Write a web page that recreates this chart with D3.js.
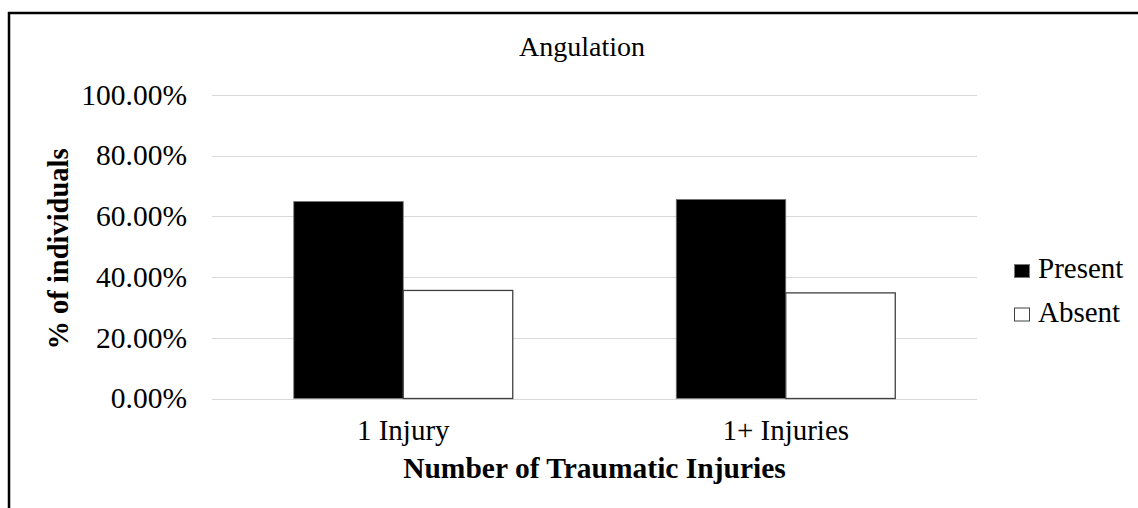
<!DOCTYPE html>
<html>
<head>
<meta charset="utf-8">
<script src="https://cdn.jsdelivr.net/npm/d3@7"></script>
<style>
  body { margin: 0; background: #fff; }
</style>
</head>
<body>
<svg width="1138" height="508"></svg>
<script>
// chart data
var categories = ["1 Injury", "1+ Injuries"];
var seriesNames = ["Present", "Absent"];
var present = [64.9, 65.6];
var absent = [35.6, 34.8];
var yTicks = [0, 20, 40, 60, 80, 100];

var serif = "'Liberation Serif', 'Times New Roman', Tinos, serif";

var svg = d3.select("svg").style("font-family", serif);

// outer frame (runs off the right and bottom edges)
svg.append("rect")
    .attr("x", 9).attr("y", 13)
    .attr("width", 1150).attr("height", 520)
    .attr("fill", "none")
    .attr("stroke", "#000")
    .attr("stroke-width", 2.5);

var plot = {left: 212, right: 977, top: 95, bottom: 398.5};

var x = d3.scaleBand().domain(categories).range([plot.left, plot.right]).padding(0);
var y = d3.scaleLinear().domain([0, 100]).range([plot.bottom, plot.top]);

// bars sit in the middle of each band, 109px each
var barW = 109.5;
var xs = d3.scaleBand().domain(seriesNames).range([-barW, barW]).padding(0);

// gridlines
svg.append("g").selectAll("line")
  .data(yTicks)
  .enter().append("line")
    .attr("x1", plot.left).attr("x2", plot.right)
    .attr("y1", function(d) { return Math.round(y(d)) + 0.5; })
    .attr("y2", function(d) { return Math.round(y(d)) + 0.5; })
    .attr("stroke", "#d9d9d9")
    .attr("stroke-width", 1);

// y tick labels
svg.append("g").selectAll("text")
  .data(yTicks)
  .enter().append("text")
    .attr("x", 187)
    .attr("y", function(d) { return y(d); })
    .attr("dy", "0.33em")
    .attr("text-anchor", "end")
    .attr("font-size", 29.5)
    .attr("fill", "#000")
    .style("font-family", serif)
    .text(function(d) { return d.toFixed(2) + "%"; });

// bars
var rows = categories.map(function(c, i) {
  return {cat: c, vals: [{s: "Present", v: present[i]}, {s: "Absent", v: absent[i]}]};
});

var groups = svg.append("g").selectAll("g")
  .data(rows)
  .enter().append("g")
    .attr("transform", function(d) { return "translate(" + (x(d.cat) + x.bandwidth() / 2) + ",0)"; });

groups.selectAll("rect")
  .data(function(d) { return d.vals; })
  .enter().append("rect")
    .attr("x", function(d) { return xs(d.s); })
    .attr("y", function(d) { return y(d.v); })
    .attr("width", xs.bandwidth())
    .attr("height", function(d) { return y(0) - y(d.v); })
    .attr("fill", function(d) { return d.s === "Present" ? "#000" : "#fff"; })
    .attr("stroke", function(d) { return d.s === "Present" ? "#777" : "#404040"; })
    .attr("stroke-width", function(d) { return d.s === "Present" ? 0.8 : 1.3; });

// category labels
svg.append("g").selectAll("text")
  .data(categories)
  .enter().append("text")
    .attr("x", function(d) { return x(d) + x.bandwidth() / 2; })
    .attr("y", 440)
    .attr("text-anchor", "middle")
    .attr("font-size", 29)
    .style("font-family", serif)
    .text(function(d) { return d; });

// titles
svg.append("text")
    .attr("x", 582).attr("y", 56)
    .attr("text-anchor", "middle")
    .attr("font-size", 28)
    .style("font-family", serif)
    .text("Angulation");

svg.append("text")
    .attr("x", (plot.left + plot.right) / 2).attr("y", 478)
    .attr("text-anchor", "middle")
    .attr("font-size", 29.5)
    .attr("font-weight", "bold")
    .style("font-family", serif)
    .text("Number of Traumatic Injuries");

svg.append("text")
    .attr("transform", "translate(68,249) rotate(-90)")
    .attr("text-anchor", "middle")
    .attr("font-size", 28.5)
    .attr("font-weight", "bold")
    .style("font-family", serif)
    .text("% of individuals");

// legend
var legend = svg.append("g").selectAll("g")
  .data(seriesNames)
  .enter().append("g")
    .attr("transform", function(d, i) { return "translate(1014," + (264 + i * 43.5) + ")"; });

legend.append("rect")
    .attr("x", 0.5).attr("y", 0.5)
    .attr("width", 15).attr("height", 13)
    .attr("fill", function(d) { return d === "Present" ? "#000" : "#fff"; })
    .attr("stroke", function(d) { return d === "Present" ? "#777" : "#404040"; })
    .attr("stroke-width", 1);

legend.append("text")
    .attr("x", 24).attr("y", 14)
    .attr("font-size", 29)
    .style("font-family", serif)
    .text(function(d) { return d; });
</script>
</body>
</html>
